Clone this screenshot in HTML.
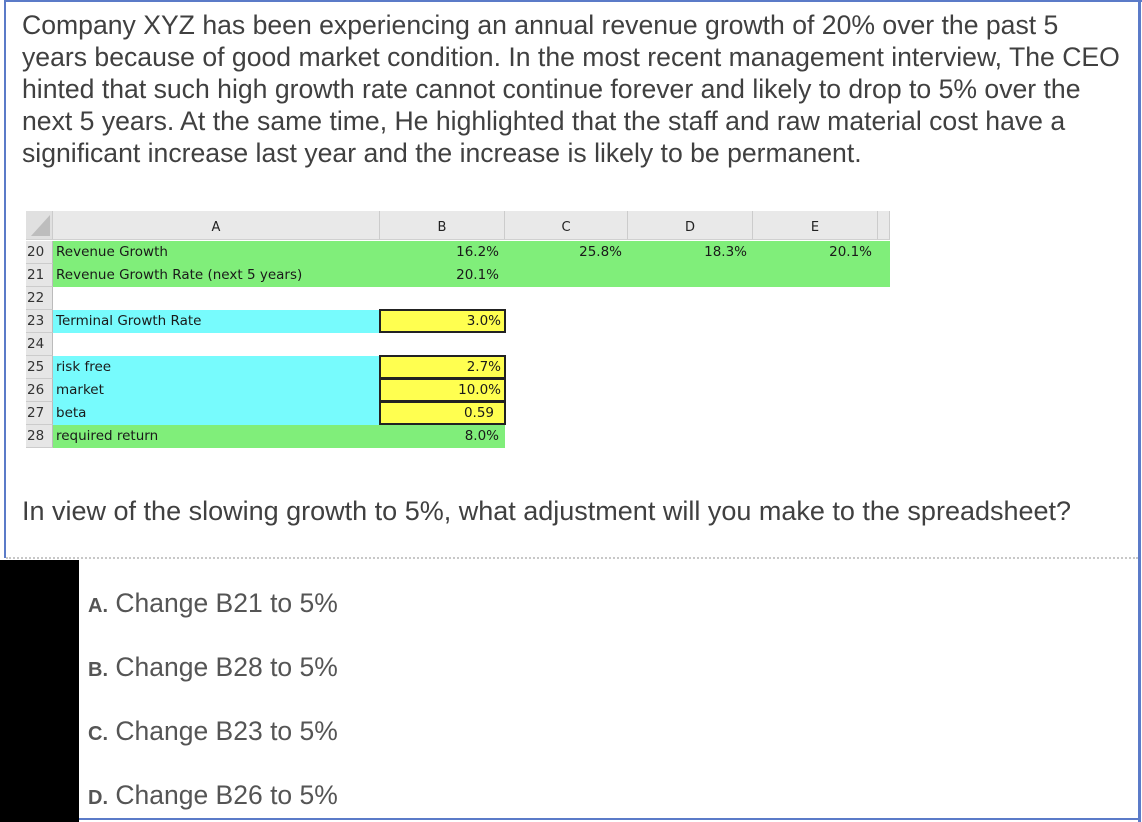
<!DOCTYPE html>
<html><head><meta charset="utf-8">
<style>
html,body{margin:0;padding:0;width:1142px;height:822px;overflow:hidden;background:#fff;font-family:"Liberation Sans",Arial,sans-serif;}
.abs{position:absolute;}
#q{left:22px;top:9px;font-size:26.6px;line-height:32px;color:#404040;white-space:nowrap;}
.cell{position:absolute;height:23px;box-sizing:border-box;font-size:13.5px;line-height:23px;color:#1a1a1a;font-family:"DejaVu Sans","Liberation Sans",sans-serif;}
.rn{left:26px;width:27px;background:#e6e6e6;color:#333;padding-left:1px;border-bottom:1px solid #ccc;border-right:1px solid #bbb;}
.g{background:#80ee7a;}
.c{background:#77fbfd;}
.y{background:#ffff50;border:2px solid #222;text-align:right;padding-right:3px;line-height:20px;}
.r{text-align:right;padding-right:6px;}
.hd{position:absolute;top:211px;height:29px;background:#e9e9e9;border-right:1px solid #ccc;border-bottom:1px solid #d0d0d0;box-sizing:border-box;text-align:center;font-size:13px;line-height:34px;color:#222;font-family:"DejaVu Sans","Liberation Sans",sans-serif;}
.opt{position:absolute;left:88px;font-size:26.5px;color:#555;}
.opt b{font-size:20px;}
</style></head><body>
<div class="abs" style="left:5px;top:0;width:1137px;height:2px;background:#5b7bc8"></div>
<div class="abs" style="left:4px;top:0;width:2px;height:558px;background:#5b7bc8"></div>
<div class="abs" style="left:1138px;top:0;width:3px;height:822px;background:#5b7bc8"></div>
<div class="abs" style="left:79px;top:818px;width:1061px;height:2px;background:#5b7bc8"></div>
<div class="abs" style="left:6px;top:557px;width:1132px;border-top:2px dotted #c8c8c8"></div>
<div class="abs" style="left:0;top:560px;width:79px;height:262px;background:#000"></div>

<div id="q" class="abs">Company XYZ has been experiencing an annual revenue growth of 20% over the past 5<br>years because of good market condition. In the most recent management interview, The CEO<br>hinted that such high growth rate cannot continue forever and likely to drop to 5% over the<br>next 5 years. At the same time, He highlighted that the staff and raw material cost have a<br>significant increase last year and the increase is likely to be permanent.</div>

<div>
<div class="hd" style="left:26px;width:27px;background:#e0e0e0"><svg width="27" height="29"><polygon points="24,4 24,25 5,25" fill="#bdbdbd"/></svg></div>
<div class="hd" style="left:53px;width:327px">A</div>
<div class="hd" style="left:380px;width:125px">B</div>
<div class="hd" style="left:505px;width:123px">C</div>
<div class="hd" style="left:628px;width:125px">D</div>
<div class="hd" style="left:753px;width:125px">E</div>
<div class="hd" style="left:878px;width:12px"></div>

<div class="cell rn" style="top:241px">20</div>
<div class="cell rn" style="top:264px">21</div>
<div class="cell rn" style="top:287px">22</div>
<div class="cell rn" style="top:310px">23</div>
<div class="cell rn" style="top:333px">24</div>
<div class="cell rn" style="top:356px">25</div>
<div class="cell rn" style="top:379px">26</div>
<div class="cell rn" style="top:402px">27</div>
<div class="cell rn" style="top:425px">28</div>

<div class="cell g" style="top:241px;left:53px;width:837px;height:46px"></div>
<div class="cell" style="top:241px;left:56px">Revenue Growth</div>
<div class="cell r" style="top:241px;left:380px;width:125px">16.2%</div>
<div class="cell r" style="top:241px;left:505px;width:123px">25.8%</div>
<div class="cell r" style="top:241px;left:628px;width:125px">18.3%</div>
<div class="cell r" style="top:241px;left:753px;width:125px">20.1%</div>
<div class="cell" style="top:264px;left:56px">Revenue Growth Rate (next 5 years)</div>
<div class="cell r" style="top:264px;left:380px;width:125px">20.1%</div>

<div class="cell c" style="top:310px;left:53px;width:327px;padding-left:3px">Terminal Growth Rate</div>
<div class="cell y" style="top:309px;left:379px;width:127px;height:24px">3.0%</div>

<div class="cell c" style="top:356px;left:53px;width:327px;height:69px"></div>
<div class="cell" style="top:356px;left:56px">risk free</div>
<div class="cell" style="top:379px;left:56px">market</div>
<div class="cell" style="top:402px;left:56px">beta</div>
<div class="cell y" style="top:355px;left:379px;width:127px;height:24px">2.7%</div>
<div class="cell y" style="top:378px;left:379px;width:127px;height:24px">10.0%</div>
<div class="cell y" style="top:401px;left:379px;width:127px;height:24px;padding-right:10px">0.59</div>

<div class="cell g" style="top:425px;left:53px;width:452px;padding-left:3px">required return</div>
<div class="cell r" style="top:425px;left:380px;width:125px">8.0%</div>
</div>

<div class="abs" style="left:22px;top:496px;font-size:27px;color:#404040;white-space:nowrap">In view of the slowing growth to 5%, what adjustment will you make to the spreadsheet?</div>

<div class="opt" style="top:588px"><b>A.</b> Change B21 to 5%</div>
<div class="opt" style="top:652px"><b>B.</b> Change B28 to 5%</div>
<div class="opt" style="top:716px"><b>C.</b> Change B23 to 5%</div>
<div class="opt" style="top:780px"><b>D.</b> Change B26 to 5%</div>
</body></html>
